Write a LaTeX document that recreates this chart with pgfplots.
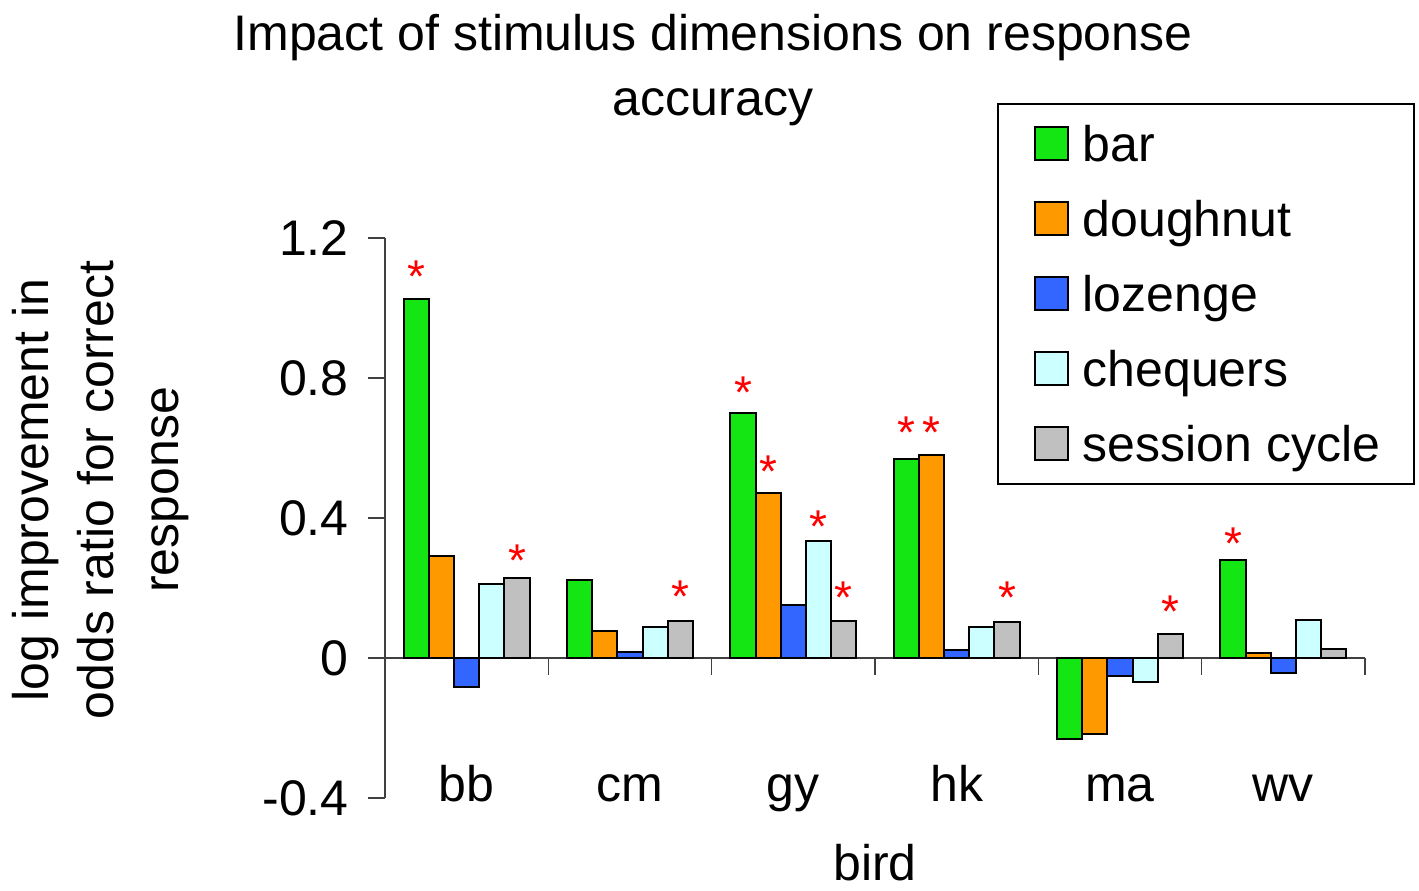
\documentclass[border=0pt]{standalone}
\usepackage{fontspec}
\setmainfont{Liberation Sans}
\usepackage{pgfplots}
\pgfplotsset{compat=1.18}
\newcommand\cf{\fontsize{25}{32.5}\selectfont}
\definecolor{cbar}{RGB}{20,230,20}
\definecolor{cdough}{RGB}{255,153,0}
\definecolor{cloz}{RGB}{51,102,255}
\definecolor{cchq}{RGB}{204,255,255}
\definecolor{csess}{RGB}{192,192,192}
\begin{document}
\begin{tikzpicture}
\begin{axis}[
  scale only axis, width=490pt, height=280pt,
  xmin=-0.5, xmax=5.5, ymin=-0.4, ymax=1.2,
  clip=false,
  ybar, bar width=0.154,
  axis y line*=left, axis x line*=middle,
  axis line style={-, black!75, line width=0.8pt},
  ytick={-0.4,0,0.4,0.8,1.2},
  yticklabels={-0.4,0,0.4,0.8,1.2},
  xtick={0,1,2,3,4,5},
  xticklabels={bb,cm,gy,hk,ma,wv},
  minor xtick={-0.5,0.5,1.5,2.5,3.5,4.5,5.5},
  major x tick style={draw=none},
  minor x tick style={black!75, line width=0.8pt},
  y tick style={black!75, line width=0.8pt},
  tick align=outside,
  major tick length=8.5pt, minor tick length=8.5pt,
  hide obscured y ticks=false,
  tick label style={font=\cf},
  yticklabel style={anchor=east, inner sep=0pt, xshift=-9.5pt},
  xticklabel style={anchor=base, inner sep=0pt, yshift=-63pt},
  title={Impact of stimulus dimensions on response\\accuracy},
  title style={font=\cf, align=center, anchor=north, inner sep=0pt, at={(rel axis cs:0.3347,1.3785)}},
  xlabel={bird},
  xlabel style={font=\cf, anchor=base, inner sep=0pt, at={(rel axis cs:0.5,-0.1475)}},
  ylabel={log improvement in\\odds ratio for correct\\response},
  ylabel style={font=\cf, align=center, anchor=north, inner sep=0pt, at={(rel axis cs:-0.3806,0.55)}},
  legend cell align=left,
  legend image code/.code={\path (0pt,0pt); \draw[#1, line width=1pt] (1pt,-8.25pt) rectangle (17.5pt,8.25pt);},
  legend style={at={(rel axis cs:0.6245,1.241)}, anchor=north west, draw=black, line width=0.75pt,
    font=\cf, inner xsep=17pt, inner ysep=5pt, row sep=7.5pt, column sep=7pt,
    nodes={inner sep=0pt, text height=24pt, text depth=6pt}},
  every node near coord/.append style={anchor=base, inner sep=0pt, text=red, font=\fontsize{23}{23}\selectfont},
]
\addplot[fill=cbar, draw=black, line width=1pt, bar shift=-0.308] coordinates {(0,1.026) (1,0.223) (2,0.699) (3,0.568) (4,-0.231) (5,0.28)};
\addlegendentry{bar}
\addplot[fill=cdough, draw=black, line width=1pt, bar shift=-0.154] coordinates {(0,0.291) (1,0.078) (2,0.47) (3,0.58) (4,-0.217) (5,0.015)};
\addlegendentry{doughnut}
\addplot[fill=cloz, draw=black, line width=1pt, bar shift=0] coordinates {(0,-0.082) (1,0.016) (2,0.151) (3,0.023) (4,-0.052) (5,-0.044)};
\addlegendentry{lozenge}
\addplot[fill=cchq, draw=black, line width=1pt, bar shift=0.154] coordinates {(0,0.21) (1,0.089) (2,0.335) (3,0.089) (4,-0.068) (5,0.109)};
\addlegendentry{chequers}
\addplot[fill=csess, draw=black, line width=1pt, bar shift=0.308] coordinates {(0,0.228) (1,0.106) (2,0.106) (3,0.104) (4,0.068) (5,0.027)};
\addlegendentry{session cycle}
% significance stars
\addplot[forget plot, draw=none, fill=none, bar shift=-0.308, nodes near coords={*}] coordinates {(0,1.044) (2,0.713) (3,0.599) (5,0.281)};
\addplot[forget plot, draw=none, fill=none, bar shift=-0.154, nodes near coords={*}] coordinates {(2,0.487) (3,0.599)};
\addplot[forget plot, draw=none, fill=none, bar shift=0.154, nodes near coords={*}] coordinates {(2,0.33)};
\addplot[forget plot, draw=none, fill=none, bar shift=0.308, nodes near coords={*}] coordinates {(0,0.234) (1,0.13) (2,0.127) (3,0.127) (4,0.086)};
\coordinate (sw) at (rel axis cs:-0.39286,-0.16429);
\coordinate (ne) at (rel axis cs:1.05510,1.425);
\end{axis}
\pgfresetboundingbox
\useasboundingbox (sw) rectangle (ne);
\end{tikzpicture}
\end{document}
